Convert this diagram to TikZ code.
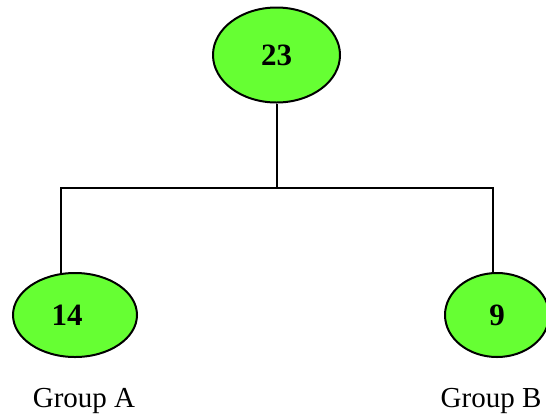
\documentclass[tikz,border=0pt]{standalone}
\usepackage{fontspec}
\setmainfont{Liberation Serif}
\usepackage{tikz}
\usetikzlibrary{positioning,shapes.geometric}
\definecolor{leafgreen}{HTML}{66FF33}
\tikzset{
  countnode/.style={draw=black, ellipse, fill=leafgreen, line width=1pt, inner sep=0pt,
    font=\fontsize{15.5}{18}\selectfont\bfseries},
  grouplbl/.style={font=\fontsize{14.5}{17}\selectfont, inner sep=0pt, anchor=base},
  link/.style={line width=1pt, draw=black}
}
\begin{document}
\begin{tikzpicture}[x=0.5pt, y=-0.5pt]
  \useasboundingbox (0,0) rectangle (546,414);

  \node[countnode, minimum width=63.5pt, minimum height=47.5pt] (total) at (276.5,55) {23};
  \node[countnode, minimum width=62pt, minimum height=42pt] (grpA) at (75,315) {14\kern8pt};
  \node[countnode, minimum width=52pt, minimum height=42pt] (grpB) at (497,315) {9};

  \node[grouplbl] (lblA) at (84,407) {Group A};
  \node[grouplbl] (lblB) at (491,407) {Group B};

  \coordinate (junc) at (276.5,188);
  \draw[link] (total.south) -- (junc);
  \draw[link] (junc) -| (grpA.109);
  \draw[link] (junc) -| (grpB.96);
\end{tikzpicture}
\end{document}
